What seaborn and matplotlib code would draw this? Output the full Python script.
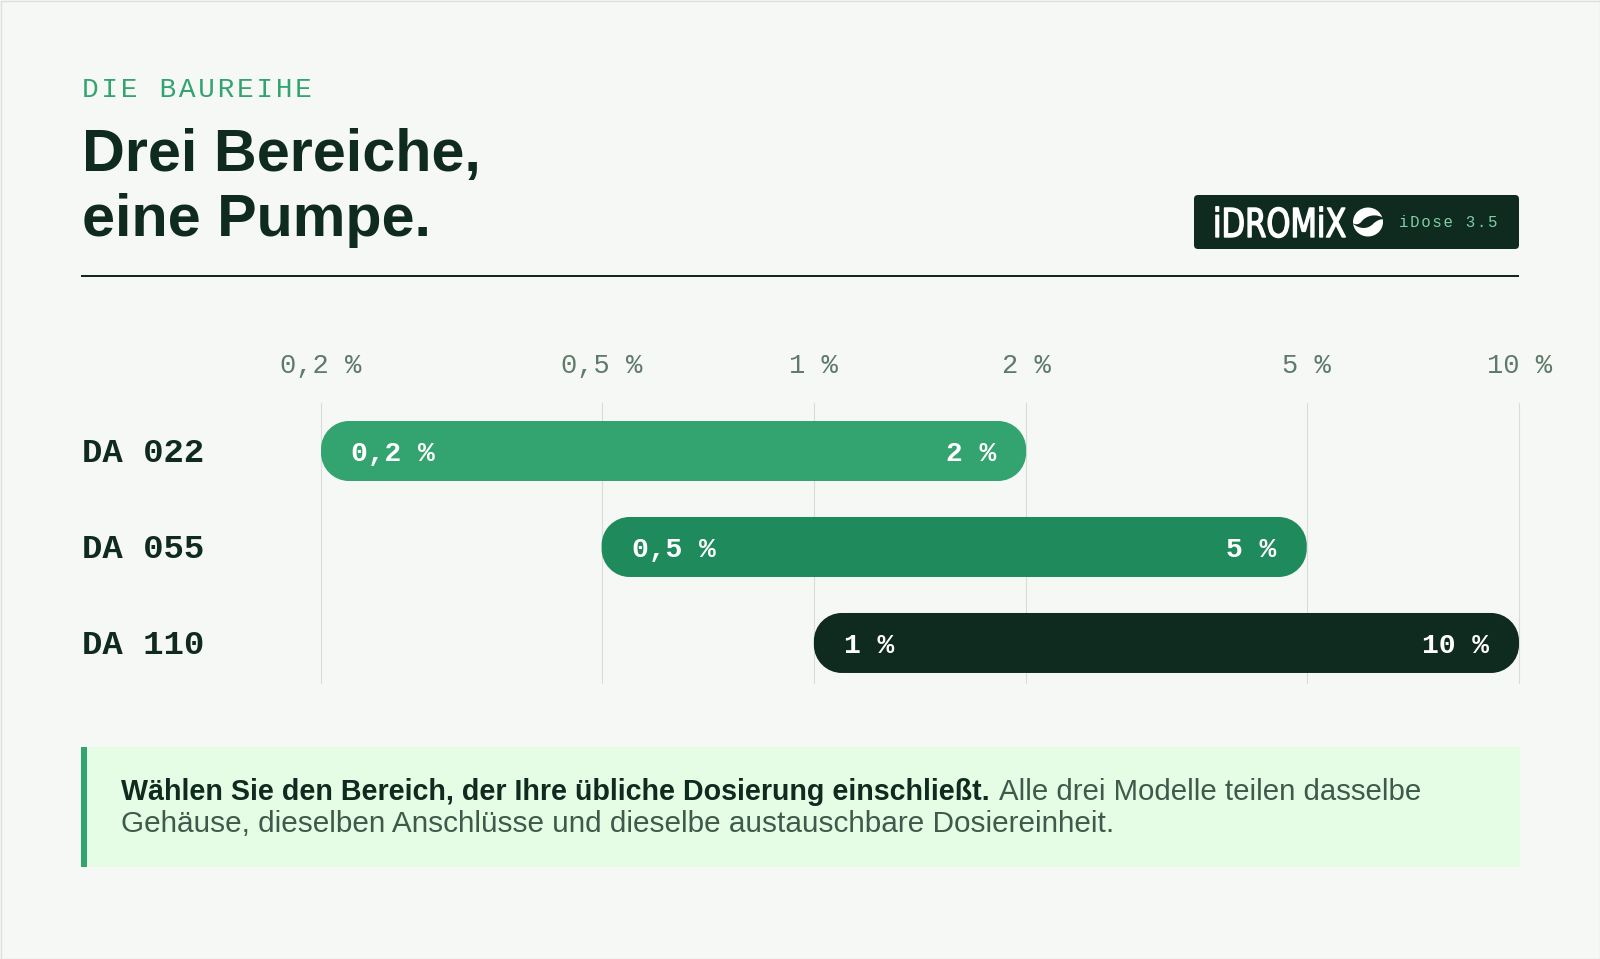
import numpy as np
import pandas as pd
import matplotlib
matplotlib.use("Agg")
import matplotlib.pyplot as plt
from matplotlib.patches import FancyBboxPatch, Rectangle, Ellipse, PathPatch
from matplotlib.patheffects import AbstractPathEffect
from matplotlib.path import Path
from matplotlib.transforms import Affine2D, IdentityTransform
import seaborn as sns

W, H = 1600, 959

models = ["DA 022", "DA 055", "DA 110"]
low_values = [0.2, 0.5, 1.0]
high_values = [2.0, 5.0, 10.0]
low_labels = ["0,2 %", "0,5 %", "1 %"]
high_labels = ["2 %", "5 %", "10 %"]
tick_values = [0.2, 0.5, 1, 2, 5, 10]
tick_labels = ["0,2 %", "0,5 %", "1 %", "2 %", "5 %", "10 %"]
bar_colors = ["#33A370", "#1F8A5B", "#0F2A1E"]

BG = "#F5F8F5"
DARK = "#0F2A1E"
MONO = "Liberation Mono"
SANS = "Liberation Sans"
HAIR = "\u200a"

sns.set_theme(style="white")
plt.rcParams["font.family"] = [SANS, "DejaVu Sans"]

fig = plt.figure(figsize=(W / 100, H / 100), dpi=100, facecolor=BG)
ax = fig.add_axes([321 / W, 1 - 683 / H, 1198 / W, 280 / H])
ax.set_facecolor("none")

df = pd.DataFrame({"model": models, "high": high_values})
sns.barplot(data=df, x="high", y="model", width=60 / 96, ax=ax)
for bar, lo, hi in zip(ax.patches, low_values, high_values):
    bar.set_x(lo)
    bar.set_width(hi - lo)

ax.set_xscale("log")
ax.set_xlim(0.2, 10)
ax.set_ylim(2.417, -0.5)
ax.set_xticks(tick_values, tick_labels)
ax.minorticks_off()
ax.xaxis.tick_top()
ax.set_xlabel("")
ax.set_ylabel("")
ax.grid(axis="x", color="#D9DCD9", lw=0.8, clip_on=False)
ax.set_axisbelow(True)
sns.despine(ax=ax, left=True, bottom=True, top=True, right=True)
ax.tick_params(axis="x", length=0, pad=17, labelsize=19.5, labelcolor="#5F7A6D")
for t in ax.get_xticklabels():
    t.set_family(MONO)
ax.tick_params(axis="y", length=0, labelleft=False)

tr = IdentityTransform()


def px(x, y):
    return x, H - y


def text(x, y, s, **kw):
    return fig.text(*px(x, y), s, transform=tr, **kw)


def spaced(s):
    return HAIR.join(s)


def pill(x0, x1, bottom, top, r):
    k = r * 0.4477
    verts = [(x0 + r, bottom), (x1 - r, bottom),
             (x1 - k, bottom), (x1, bottom + k), (x1, bottom + r),
             (x1, top - r),
             (x1, top - k), (x1 - k, top), (x1 - r, top),
             (x0 + r, top),
             (x0 + k, top), (x0, top - k), (x0, top - r),
             (x0, bottom + r),
             (x0, bottom + k), (x0 + k, bottom), (x0 + r, bottom)]
    codes = [Path.MOVETO, Path.LINETO, Path.CURVE4, Path.CURVE4, Path.CURVE4, Path.LINETO,
             Path.CURVE4, Path.CURVE4, Path.CURVE4, Path.LINETO,
             Path.CURVE4, Path.CURVE4, Path.CURVE4, Path.LINETO,
             Path.CURVE4, Path.CURVE4, Path.CURVE4]
    return Path(verts, codes)


# swap the square bars for pills at the same place
for bar, color, lo, hi, name in zip(list(ax.patches), bar_colors, low_labels, high_labels, models):
    (x0, y0), (x1, y1) = ax.transData.transform(
        [(bar.get_x(), bar.get_y()), (bar.get_x() + bar.get_width(), bar.get_y() + bar.get_height())])
    top, bottom = max(y0, y1), min(y0, y1)
    bar.remove()
    ax.add_patch(PathPatch(pill(x0, x1, bottom, top, 28), fc=color, ec="none",
                           transform=tr, zorder=3, clip_on=False))
    mid = (top + bottom) / 2
    fig.text(x0 + 30, mid, lo, transform=tr, color="white", family=MONO,
             weight="bold", size=20.2, ha="left", va="center_baseline", zorder=5)
    fig.text(x1 - 30, mid, hi, transform=tr, color="white", family=MONO,
             weight="bold", size=20.2, ha="right", va="center_baseline", zorder=5)
    fig.text(81.5, mid + 1, name, transform=tr, color=DARK, family=MONO,
             weight="bold", size=24.5, ha="left", va="center_baseline")

text(81.5, 97, spaced("DIE BAUREIHE"), family=[MONO, "DejaVu Sans"], size=20, color="#33A370")
text(81.5, 170.5, "Drei Bereiche,", weight="bold", size=42.7, color=DARK)
text(81.5, 235.5, "eine Pumpe.", weight="bold", size=42.7, color=DARK)

# header rule
fig.add_artist(Rectangle(px(81, 277), 1438, 1.6, transform=tr, fc=DARK, ec="none"))

# badge
x0, y1 = px(1194, 249)
fig.add_artist(FancyBboxPatch((x0 + 4, y1 + 4), 325 - 8, 54 - 8, boxstyle="round,pad=4,rounding_size=4",
                              transform=tr, fc=DARK, ec="none"))


class Lettering(AbstractPathEffect):
    # stretched, heavier strokes for the wordmark
    def draw_path(self, renderer, gc, tpath, affine, rgbFace=None):
        gc0 = renderer.new_gc()
        gc0.copy_properties(gc)
        gc0.set_linewidth(1.0)
        gc0.set_foreground("white")
        base = H - 237
        stretch = Affine2D().translate(-1213, -base).scale(0.9, 1.17).translate(1213, base)
        renderer.draw_path(gc0, tpath, affine + stretch, rgbFace)
        gc0.restore()


mark = text(1213, 237, "iDROMiX", family="DejaVu Sans", size=24.5, color="white")
mark.set_path_effects([Lettering()])
text(1399, 227, spaced("iDose 3.5"), family=[MONO, "DejaVu Sans"], size=11.35, color="#7FCFA6")

# logo mark
fig.add_artist(Ellipse(px(1368, 222), 30, 29, transform=tr, fc="white", ec="none"))
leaf = [(1352, 223), (1360, 230), (1368, 229), (1373, 224), (1377, 220), (1381, 219), (1385, 219),
        (1377, 213), (1367, 215), (1362, 221), (1359, 225), (1356, 225), (1352, 223)]
codes = [Path.MOVETO] + [Path.CURVE4] * 12
fig.add_artist(PathPatch(Path([px(*p) for p in leaf], codes), transform=tr, fc=DARK, ec="none"))

# callout
fig.add_artist(Rectangle(px(81, 867), 1439, 120, transform=tr, fc="#E5FDE4", ec="none"))
fig.add_artist(Rectangle(px(81, 867), 6, 120, transform=tr, fc="#33A370", ec="none"))
text(121, 800, "Wählen Sie den Bereich, der Ihre übliche Dosierung einschließt.", weight="bold", size=20.58, color=DARK)
text(999, 800, "Alle drei Modelle teilen dasselbe", size=21.2, color="#3D5A4C")
text(121, 832, "Gehäuse, dieselben Anschlüsse und dieselbe austauschbare Dosiereinheit.", size=21.45, color="#3D5A4C")

# page edge
fig.add_artist(Rectangle((0.5, 0.5), W - 1, H - 1, transform=tr, fc="none", ec="#DCDFDC", lw=1))

fig.savefig("out.png", dpi=100, facecolor=BG)
